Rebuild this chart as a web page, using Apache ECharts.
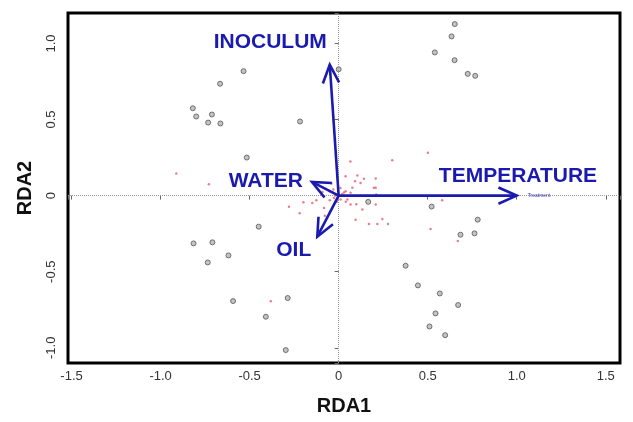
<!DOCTYPE html>
<html>
<head>
<meta charset="utf-8">
<script src="https://cdn.jsdelivr.net/npm/echarts@6/dist/echarts.min.js"></script>
<style>html,body{margin:0;padding:0;background:#fff}#c{width:633px;height:422px}</style>
</head>
<body>
<div id="c"></div>
<script>
// ---- Data ----
var xAxisName = 'RDA1';
var yAxisName = 'RDA2';
// Site scores (grey circles)
var sitesX = [-0.534,-0.666,-0.819,-0.800,-0.712,-0.733,-0.664,-0.217,-0.516,
  0.652,0.634,0.540,0.651,0.725,0.767,
  -0.449,-0.815,-0.709,-0.619,-0.735,-0.593,-0.286,-0.409,-0.297,
  0.166,0.522,0.781,0.684,0.763,0.376,0.445,0.568,0.671,0.544,0.510,0.598,0.0];
var sitesY = [0.818,0.735,0.574,0.520,0.533,0.480,0.474,0.487,0.250,
  1.127,1.046,0.941,0.890,0.800,0.787,
  -0.204,-0.314,-0.307,-0.393,-0.439,-0.693,-0.673,-0.796,-1.015,
  -0.041,-0.072,-0.158,-0.257,-0.248,-0.461,-0.590,-0.643,-0.719,-0.774,-0.860,-0.917,0.83];
// Species scores (small red points)
var speciesX = [-0.912,-0.729,0.501,0.301,0.066,-0.381,-0.279,-0.219,-0.198,-0.148,-0.125,-0.082,-0.077,
  0.516,0.669,0.581,0.095,0.170,0.217,0.245,0.277,0.133,0.099,0.208,0.211,0.039,0.105,0.092,0.123,0.142,
  0.208,0.198,-0.041,-0.050,-0.091,0.077,0.067,0.039,-0.007,-0.026,0.011,0.049,0.067,0.208,
  -0.03,0.01,-0.01,0.03,-0.05,0.04,0.02,-0.02];
var speciesY = [0.145,0.075,0.281,0.232,0.224,-0.695,-0.074,-0.116,-0.044,-0.048,-0.031,-0.081,-0.132,
  -0.219,-0.298,-0.031,-0.158,-0.186,-0.186,-0.153,-0.186,-0.092,-0.057,0.051,0.007,0.127,0.132,0.094,0.083,0.110,
  0.112,0.051,0.079,0.028,0.024,0.051,0.018,0.028,0.007,-0.015,-0.026,-0.026,-0.059,-0.059,
  0.04,0.05,-0.04,0.02,-0.03,-0.04,0.01,0.0];
// Environmental vectors
var vectorNames = ['TEMPERATURE','INOCULUM','WATER','OIL'];
var vectorX = [1.0,-0.05,-0.15,-0.12];
var vectorY = [0.0,0.86,0.09,-0.27];
var vectorLabelX = [1.007,-0.384,-0.409,-0.252];
var vectorLabelY = [0.129,1.009,0.096,-0.357];
// Treatment centroid label
var centroidName = ['Treatment'];
var centroidX = [1.125];
var centroidY = [0.0];
// Axis ranges / ticks
var xMin = -1.52, xMax = 1.58, yMin = -1.10, yMax = 1.20, tickStep = 0.5;

// ---- Build ----
var blue = '#1a1aae';
function zip(a,b){ return a.map(function(v,i){ return [v,b[i]]; }); }
function tickFmt(v){
  var k = Math.round(v / tickStep);
  if (Math.abs(k*tickStep - v) > 1e-6) return '';
  if (Math.abs(v) < 1e-9) return '0';
  return v.toFixed(1);
}
var chart = echarts.init(document.getElementById('c'), null, {renderer:'canvas'});
chart.setOption({
  backgroundColor:'#fff',
  animation:false,
  grid:{left:68, right:13, top:13, bottom:59, show:true, borderColor:'#000', borderWidth:3, backgroundColor:'transparent'},
  xAxis:{type:'value', min:xMin, max:xMax, minInterval:tickStep, maxInterval:tickStep,
    name:xAxisName, nameLocation:'middle', nameGap:33,
    nameTextStyle:{fontFamily:'Liberation Sans', fontWeight:'bold', fontSize:20, color:'#111'},
    axisLine:{show:false}, splitLine:{show:false},
    axisTick:{show:true, length:4, lineStyle:{color:'#666'}},
    axisLabel:{formatter:tickFmt, fontFamily:'Liberation Sans', fontSize:13, color:'#333', margin:7}},
  yAxis:{type:'value', min:yMin, max:yMax, minInterval:tickStep, maxInterval:tickStep,
    name:yAxisName, nameLocation:'middle', nameGap:33, nameRotate:90,
    nameTextStyle:{fontFamily:'Liberation Sans', fontWeight:'bold', fontSize:20, color:'#111'},
    axisLine:{show:false}, splitLine:{show:false},
    axisTick:{show:true, length:4, lineStyle:{color:'#666'}},
    axisLabel:{formatter:tickFmt, rotate:90, fontFamily:'Liberation Sans', fontSize:13, color:'#333', margin:10}},
  series:[
    {type:'scatter', name:'sites', data:zip(sitesX,sitesY), symbol:'circle', symbolSize:5,
      itemStyle:{color:'#b4b4b4', borderColor:'#555', borderWidth:1}, z:3,
      markLine:{silent:true, symbol:'none', label:{show:false},
        lineStyle:{color:'#999', width:1, type:'dotted'},
        data:[{xAxis:0},{yAxis:0}]}},
    {type:'scatter', name:'species', data:zip(speciesX,speciesY), symbol:'circle', symbolSize:2.5,
      itemStyle:{color:'#e0606e'}, z:4},
    {type:'custom', name:'vectors', data:zip(vectorX,vectorY), z:5,
      encode:{x:0,y:1},
      renderItem:function(params, api){
        var o = api.coord([0,0]);
        var e = api.coord([api.value(0), api.value(1)]);
        var ang = Math.atan2(e[1]-o[1], e[0]-o[0]);
        var L = 20, a = Math.PI/7.5;
        var p1 = [e[0]-L*Math.cos(ang-a), e[1]-L*Math.sin(ang-a)];
        var p2 = [e[0]-L*Math.cos(ang+a), e[1]-L*Math.sin(ang+a)];
        return {type:'group', children:[
          {type:'line', shape:{x1:o[0],y1:o[1],x2:e[0],y2:e[1]}, style:{stroke:blue, lineWidth:2.6}},
          {type:'polyline', shape:{points:[p1,e,p2]}, style:{stroke:blue, lineWidth:2.6, fill:null}}
        ]};
      }},
    {type:'custom', name:'vectorLabels', z:6, silent:true,
      data:vectorNames.map(function(n,i){ return [vectorLabelX[i], vectorLabelY[i], i]; }),
      encode:{x:0,y:1},
      renderItem:function(params, api){
        var p = api.coord([api.value(0), api.value(1)]);
        return {type:'text', x:p[0], y:p[1], style:{text:vectorNames[api.value(2)], fill:blue,
          font:'bold 21px "Liberation Sans"', align:'center', verticalAlign:'middle'}};
      }},
    {type:'custom', name:'centroid', z:6, silent:true,
      data:centroidName.map(function(n,i){ return [centroidX[i], centroidY[i], i]; }),
      encode:{x:0,y:1},
      renderItem:function(params, api){
        var p = api.coord([api.value(0), api.value(1)]);
        return {type:'text', x:p[0], y:p[1], style:{text:centroidName[api.value(2)], fill:'#3030c0',
          font:'5px "Liberation Sans"', align:'center', verticalAlign:'middle'}};
      }}
  ]
});
</script>
</body>
</html>
